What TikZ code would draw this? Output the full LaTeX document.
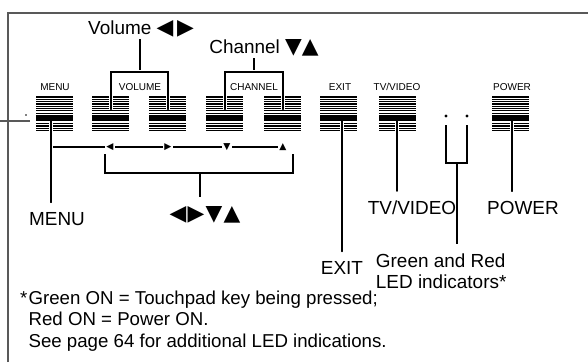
\documentclass[tikz,border=0pt]{standalone}
\usepackage{fontspec}
\setmainfont{Liberation Sans}
\newfontfamily\symfont[Scale=1.15]{DejaVu Sans}
\usepackage{tikz}
\usetikzlibrary{calc}

\begin{document}
\begin{tikzpicture}[
  x=0.75pt, y=-0.75pt,
  line width=0.9pt,
  pad/.style={minimum width=27.75pt, minimum height=27pt, inner sep=0pt},
  keylbl/.style={font=\fontsize{7.5}{8}\selectfont, inner sep=1pt},
  lbl/.style={font=\fontsize{14.2}{16}\selectfont, inner sep=1pt},
  note/.style={font=\fontsize{14}{16.3}\selectfont, inner sep=0pt},
  tri/.style={font=\symfont\fontsize{6}{6}\selectfont, inner sep=1pt},
  halo/.style={preaction={draw=white, line width=2.6pt}, line cap=round},
  stem/.style={shorten >=6pt},
  ledot/.style={circle, fill, inner sep=0pt, minimum size=2.6pt},
  frame/.style={draw=black!65, line width=1.1pt},
]
\useasboundingbox (0,0) rectangle (588,362);

% ===== frame =====
\draw[frame] (8,362) -- (8,13) -- (588,13);
\draw[frame] (0,121) -- (30,121);
\fill (26,115) circle (0.6pt);

% ===== touchpad keys =====
\node[pad] (menu)  at (55,115)  {};
\node[pad] (volL)  at (111,115) {};
\node[pad] (volR)  at (168,115) {};
\node[pad] (chL)   at (225,115) {};
\node[pad] (chR)   at (283,115) {};
\node[pad] (exit)  at (339,115) {};
\node[pad] (tv)    at (398,115) {};
\node[pad] (power) at (511,115) {};
\foreach \k in {menu,volL,volR,chL,chR,exit,tv,power}{
  % fine stripes, thick band, lower stripes
  \foreach \i in {0,...,8}
    \fill ([yshift=-\i*1.725pt]\k.north west) rectangle ++(27.75pt,-0.95pt);
  \fill ([yshift=-15pt]\k.north west) rectangle ++(27.75pt,-3.4pt);
  \foreach \i in {0,...,3}
    \fill ([yshift=-19.9pt-\i*1.8pt]\k.north west) rectangle ++(27.75pt,-0.95pt);
}
\node[ledot] (ledg) at (446,116) {};
\node[ledot] (ledr) at (467,116) {};

% key captions
\node[keylbl] (tmenu) at (55,87)  {MENU};
\node[keylbl] (tvol)  at (140,87) {VOLUME};
\node[keylbl] (tch)   at (254,87) {CHANNEL};
\node[keylbl] (texit) at (340,87) {EXIT};
\node[keylbl] (ttv)   at (397,87) {TV/VIDEO};
\node[keylbl] (tpow)  at (512,87) {POWER};

% ===== upper callouts =====
\node[lbl] (volume)  at (141,29) {Volume {\symfont ◀\,▶}};
\node[lbl] (channel) at (264,48) {Channel {\symfont ▼▲}};
\coordinate (vj) at (140,72);
\coordinate (cj) at (254,72);
\draw (vj |- volume.south) -- (vj);
\draw[halo] ($(volL.north)+(0,13)$) |- (vj) -| ($(volR.north)+(0,13)$);
\draw (cj |- channel.south) -- (cj);
\draw[halo] ($(chL.north)+(0,13)$) |- (cj) -| ($(chR.north)+(0,13)$);

% ===== lower callouts =====
\node[lbl] (lmenu)  at (57,219)  {MENU};
\node[lbl] (lexit)  at (342,268) {EXIT};
\node[lbl] (ltv)    at (412,208) {TV/VIDEO};
\node[lbl] (lpow)   at (523,208) {POWER};
\node[lbl] (arrows) at (205,215) {{\symfont ◀\kern1pt▶\kern1pt▼\kern1pt▲}};
\node[lbl, anchor=north west, align=left] (leds) at (374,252) {Green and Red\\LED indicators*};

\coordinate (ms) at ($(menu.center)+(-4,6)$);
\coordinate (es) at ($(exit.center)+(3,6)$);
\coordinate (ts) at ($(tv.center)+(-1,6)$);
\coordinate (ps) at ($(power.center)+(1,6)$);
\draw[halo, stem] (ms) -- (ms |- lmenu.north);
\draw[halo, stem] (es) -- (es |- lexit.north);
\draw[halo, stem] (ts) -- (ts |- ltv.north);
\draw[halo, stem] (ps) -- (ps |- lpow.north);

% cursor row
\node[tri] (ml) at (110,147) {◀};
\node[tri] (mr) at (168,147) {▶};
\node[tri] (md) at (227,147) {▼};
\node[tri] (mu) at (283,147) {▲};
\coordinate (m0) at ($(ms |- ml)+(2,0)$);
\draw (m0) -- (ml);
\draw (ml) -- (mr);
\draw (mr) -- (md);
\draw (md) -- (mu);

\coordinate (bl) at (105,154);
\coordinate (br) at (293,154);
\coordinate (bj) at (200,173);
\draw (bl) |- (bj) -| (br);
\draw[stem] (bj) -- (bj |- arrows.north);

% LED bracket
\coordinate (lj) at (457,163);
\draw ([yshift=-5pt]ledg.south) |- (lj) -| ([yshift=-5pt]ledr.south);
\draw[stem] (lj) -- (lj |- leds.north);

% ===== footnote =====
\node[note, anchor=north west, align=left] (foot) at (28,290)
  {\llap{*\kern1pt}Green ON = Touchpad key being pressed;\\
   Red ON = Power ON.\\
   See page 64 for additional LED indications.};

\end{tikzpicture}
\end{document}
